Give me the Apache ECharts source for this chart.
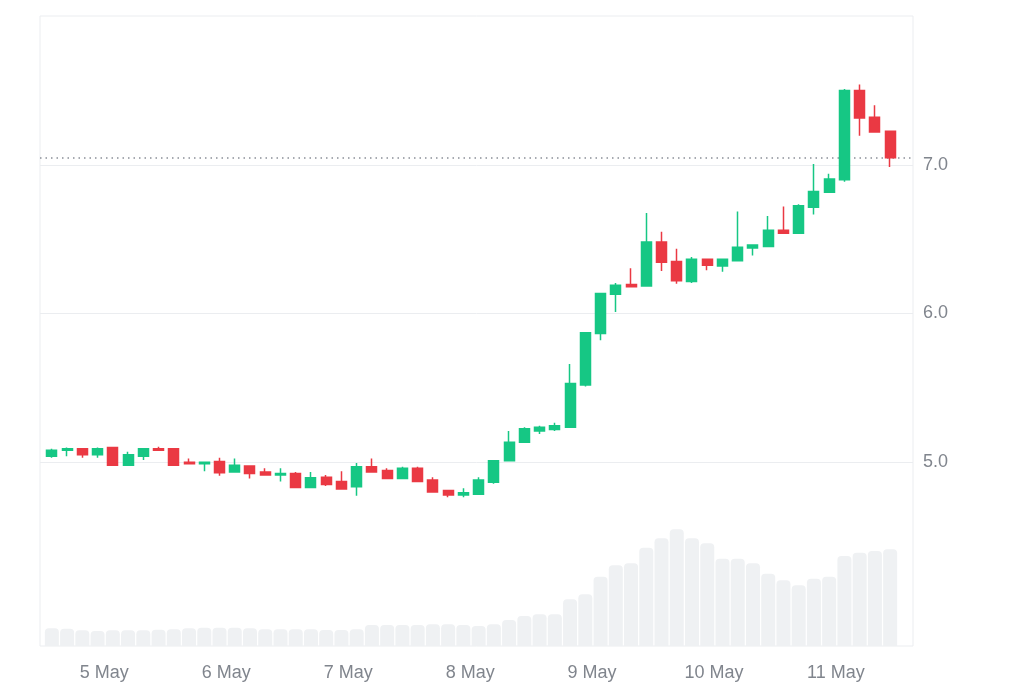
<!DOCTYPE html>
<html>
<head>
<meta charset="utf-8">
<style>
  html, body { margin: 0; padding: 0; background: #ffffff; }
  #chart { width: 1024px; height: 683px; }
</style>
<script src="https://cdn.jsdelivr.net/npm/echarts@6/dist/echarts.min.js"></script>
</head>
<body>
<div id="chart"></div>
<script>
// ---- Data (3-hour candles) ----
const times = [
  '2024-05-04 13:40','2024-05-04 16:40','2024-05-04 19:40','2024-05-04 22:40',
  '2024-05-05 01:40','2024-05-05 04:40','2024-05-05 07:40','2024-05-05 10:40',
  '2024-05-05 13:40','2024-05-05 16:40','2024-05-05 19:40','2024-05-05 22:40',
  '2024-05-06 01:40','2024-05-06 04:40','2024-05-06 07:40','2024-05-06 10:40',
  '2024-05-06 13:40','2024-05-06 16:40','2024-05-06 19:40','2024-05-06 22:40',
  '2024-05-07 01:40','2024-05-07 04:40','2024-05-07 07:40','2024-05-07 10:40',
  '2024-05-07 13:40','2024-05-07 16:40','2024-05-07 19:40','2024-05-07 22:40',
  '2024-05-08 01:40','2024-05-08 04:40','2024-05-08 07:40','2024-05-08 10:40',
  '2024-05-08 13:40','2024-05-08 16:40','2024-05-08 19:40','2024-05-08 22:40',
  '2024-05-09 01:40','2024-05-09 04:40','2024-05-09 07:40','2024-05-09 10:40',
  '2024-05-09 13:40','2024-05-09 16:40','2024-05-09 19:40','2024-05-09 22:40',
  '2024-05-10 01:40','2024-05-10 04:40','2024-05-10 07:40','2024-05-10 10:40',
  '2024-05-10 13:40','2024-05-10 16:40','2024-05-10 19:40','2024-05-10 22:40',
  '2024-05-11 01:40','2024-05-11 04:40','2024-05-11 07:40','2024-05-11 10:40'
];
const opens = [
  5.04, 5.08, 5.09, 5.05, 5.10, 4.98, 5.04, 5.09,
  5.09, 5.00, 4.99, 5.005, 4.935, 4.975, 4.935, 4.915,
  4.925, 4.83, 4.90, 4.87, 4.835, 4.97, 4.945, 4.89,
  4.96, 4.88, 4.81, 4.78, 4.785, 4.865, 5.01, 5.135,
  5.21, 5.22, 5.235, 5.52, 5.865, 6.13, 6.195, 6.185,
  6.48, 6.35, 6.215, 6.365, 6.32, 6.355, 6.44, 6.45,
  6.56, 6.54, 6.715, 6.815, 6.90, 7.50, 7.32, 7.225
];
const closes = [
  5.08, 5.09, 5.05, 5.09, 4.98, 5.05, 5.09, 5.08,
  4.98, 4.99, 5.00, 4.93, 4.98, 4.925, 4.915, 4.925,
  4.83, 4.895, 4.85, 4.82, 4.97, 4.935, 4.89, 4.96,
  4.87, 4.80, 4.78, 4.795, 4.88, 5.01, 5.135, 5.225,
  5.235, 5.245, 5.53, 5.87, 6.135, 6.19, 6.18, 6.48,
  6.345, 6.22, 6.365, 6.325, 6.365, 6.445, 6.46, 6.56,
  6.54, 6.725, 6.82, 6.905, 7.50, 7.315, 7.22, 7.047
];
const lows = [
  5.03, 5.04, 5.03, 5.03, 4.98, 4.98, 5.015, 5.08,
  4.98, 4.985, 4.94, 4.91, 4.935, 4.89, 4.915, 4.87,
  4.83, 4.83, 4.84, 4.82, 4.775, 4.935, 4.89, 4.89,
  4.87, 4.80, 4.765, 4.765, 4.785, 4.855, 5.01, 5.13,
  5.19, 5.21, 5.235, 5.51, 5.82, 6.01, 6.18, 6.185,
  6.285, 6.20, 6.205, 6.29, 6.28, 6.355, 6.39, 6.45,
  6.54, 6.54, 6.665, 6.815, 6.885, 7.195, 7.22, 6.985
];
const highs = [
  5.09, 5.10, 5.09, 5.10, 5.105, 5.07, 5.095, 5.105,
  5.095, 5.025, 5.00, 5.03, 5.025, 4.975, 4.96, 4.96,
  4.935, 4.935, 4.915, 4.94, 4.995, 5.025, 4.96, 4.97,
  4.97, 4.90, 4.81, 4.825, 4.90, 5.01, 5.21, 5.235,
  5.245, 5.265, 5.66, 5.87, 6.135, 6.205, 6.305, 6.675,
  6.55, 6.435, 6.38, 6.365, 6.37, 6.685, 6.46, 6.655,
  6.72, 6.735, 7.005, 6.94, 7.51, 7.54, 7.40, 7.225
];
const volumes = [
  1.77, 1.73, 1.57, 1.50, 1.57, 1.57, 1.57, 1.63,
  1.67, 1.77, 1.83, 1.83, 1.83, 1.77, 1.67, 1.67,
  1.67, 1.67, 1.60, 1.60, 1.67, 2.10, 2.10, 2.10,
  2.10, 2.17, 2.17, 2.10, 2.00, 2.17, 2.60, 3.00,
  3.17, 3.17, 4.67, 5.17, 6.93, 8.07, 8.27, 9.83,
  10.77, 11.67, 10.77, 10.27, 8.73, 8.73, 8.27, 7.23,
  6.57, 6.07, 6.73, 6.93, 9.00, 9.33, 9.50, 9.67
];
const dayLabels = ['5 May', '6 May', '7 May', '8 May', '9 May', '10 May', '11 May'];
const priceTicks = [5, 6, 7];
const lastPrice = 7.047;
const axisStart = '2024-05-04 11:20';
const axisEnd = '2024-05-11 15:10';

// ---- helpers ----
function ts(s) { return new Date(s.replace(' ', 'T')).getTime(); }
const candleData = times.map((t, i) => [ts(t), opens[i], closes[i], lows[i], highs[i]]);
const volumeData = times.map((t, i) => [ts(t), volumes[i]]);

const UP = '#16c784';
const DOWN = '#ea3943';
const LABEL = '#80858d';
const VOL = '#eff1f3';
const FONT = '"Liberation Sans", Arial, Helvetica, sans-serif';

const chart = echarts.init(document.getElementById('chart'), null, { renderer: 'canvas' });
chart.setOption({
  animation: false,
  backgroundColor: '#ffffff',
  grid: [
    { left: 40, right: 111, top: 16, bottom: 72, show: false },
    { left: 40, right: 111, top: 16, bottom: 37, show: true, borderColor: '#ebedf0', borderWidth: 1, backgroundColor: 'transparent' }
  ],
  xAxis: [
    {
      type: 'time', gridIndex: 0, min: ts(axisStart), max: ts(axisEnd), show: false,
      minInterval: 86400000, maxInterval: 86400000
    },
    {
      type: 'time', gridIndex: 1, min: ts(axisStart), max: ts(axisEnd),
      minInterval: 86400000, maxInterval: 86400000,
      axisLine: { show: false }, axisTick: { show: false }, splitLine: { show: false },
      axisLabel: {
        color: LABEL, fontSize: 18, fontFamily: FONT, margin: 18,
        showMinLabel: false, showMaxLabel: false,
        formatter: function (v) {
          const d = new Date(v);
          if (d.getHours() !== 0 || d.getMinutes() !== 0) return '';
          const idx = d.getDate() - 5;
          return (idx >= 0 && idx < dayLabels.length) ? dayLabels[idx] : '';
        }
      }
    }
  ],
  yAxis: [
    {
      type: 'value', gridIndex: 0, position: 'right', min: 4, max: 8, interval: 1, scale: true,
      axisLine: { show: false }, axisTick: { show: false },
      splitLine: { show: true, showMinLine: false, showMaxLine: false, lineStyle: { color: '#ebedf0', width: 1 } },
      axisLabel: {
        color: LABEL, fontSize: 18, fontFamily: FONT, margin: 10,
        padding: [3, 0, 0, 0],
        showMinLabel: false, showMaxLabel: false,
        formatter: function (v) { return priceTicks.indexOf(v) >= 0 ? v.toFixed(1) : ''; }
      }
    },
    {
      type: 'value', gridIndex: 1, min: 0, max: 63, show: false,
      splitLine: { show: false }
    }
  ],
  series: [
    {
      name: 'Volume', type: 'custom', xAxisIndex: 1, yAxisIndex: 1, z: 1,
      data: volumeData, silent: true,
      encode: { x: 0, y: 1 },
      renderItem: function (params, api) {
        const top = api.coord([api.value(0), api.value(1)]);
        const base = api.coord([api.value(0), 0]);
        const w = 14;
        return {
          type: 'rect',
          shape: { x: top[0] - w / 2, y: top[1], width: w, height: base[1] - top[1], r: [4, 4, 0, 0] },
          style: { fill: VOL }
        };
      }
    },
    {
      name: 'Price', type: 'candlestick', xAxisIndex: 0, yAxisIndex: 0, z: 5,
      data: candleData, barWidth: 10.5,
      itemStyle: { color: UP, color0: DOWN, borderColor: UP, borderColor0: DOWN, borderWidth: 1.5 },
      markLine: {
        silent: true, symbol: ['none', 'none'],
        label: { show: false },
        lineStyle: { color: '#8a8f98', width: 1.5, type: [1.5, 4] },
        data: [{ yAxis: lastPrice }]
      }
    }
  ]
});
</script>
</body>
</html>
